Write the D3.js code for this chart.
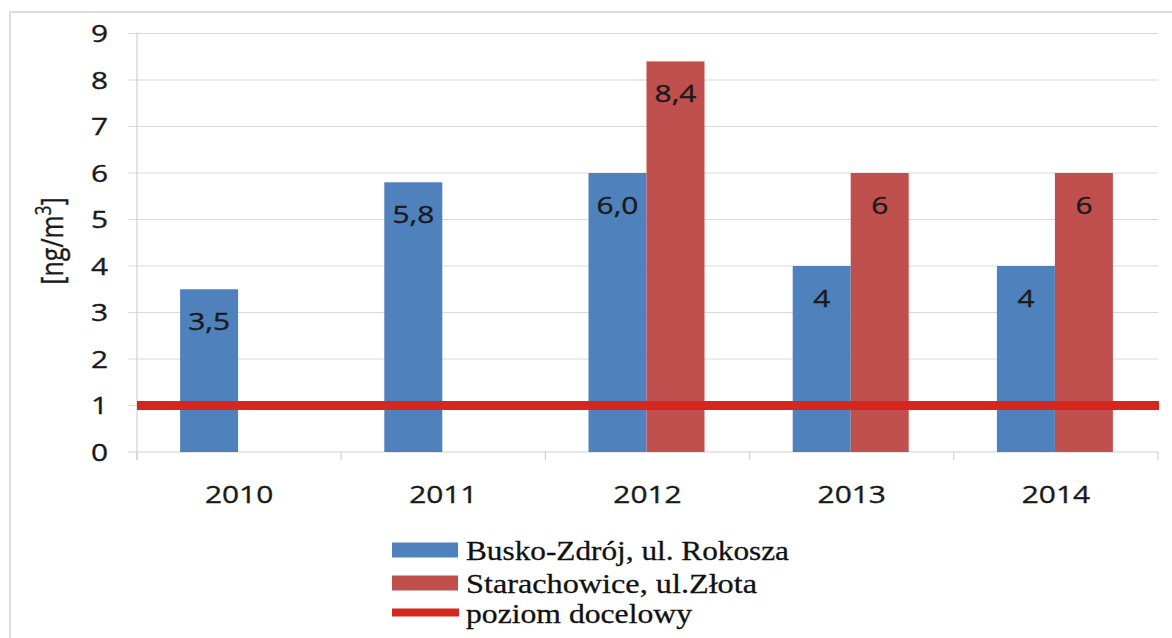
<!DOCTYPE html>
<html><head><meta charset="utf-8">
<script src="https://cdn.jsdelivr.net/npm/d3@7"></script>
<style>body{margin:0;background:#fff}svg{display:block}</style>
</head><body>
<svg id="c" width="1172" height="638"></svg>
<script>
const categories = ["2010","2011","2012","2013","2014"];
const seriesNames = ["Busko-Zdrój, ul. Rokosza","Starachowice, ul.Złota"];
const busko = [3.5, 5.8, 6.0, 4, 4];
const starachowice = [null, null, 8.4, 6, 6];
const buskoLabels = ["3,5","5,8","6,0","4","4"];
const starLabels = [null, null, "8,4","6","6"];
const targetName = "poziom docelowy";
const targetValue = 1;
const yTicks = [0,1,2,3,4,5,6,7,8,9];
const legendLengths = [323, 291, 226];

const colors = ["#4f81bd","#c0504d"];
const lineColor = "#d7261e";
const SX = 1.27;

const svg = d3.select("#c");
svg.append("rect").attr("x",10).attr("y",12).attr("width",1200).attr("height",700)
  .attr("fill","none").attr("stroke","#dcdcdc").attr("stroke-width",2);

const x0 = 137, x1 = 1158, yTop = 33.5, yBot = 452;
const x = d3.scaleBand().domain(categories).range([x0,x1]).padding(0);
const y = d3.scaleLinear().domain([0,9]).range([yBot,yTop]);
const xi = d3.scaleBand().domain([0,1]).range([0, 116]);

const g = svg.append("g");
g.selectAll(".grid").data(yTicks.filter(d=>d>0)).join("line")
  .attr("x1",128).attr("x2",x1).attr("y1",d=>y(d)).attr("y2",d=>y(d))
  .attr("stroke","#d9d9d9").attr("stroke-width",1.2);
g.append("line").attr("x1",x0).attr("x2",x0).attr("y1",yTop).attr("y2",yBot+8)
  .attr("stroke","#d0d0d0").attr("stroke-width",1.2);
g.append("line").attr("x1",128).attr("x2",x1).attr("y1",yBot).attr("y2",yBot)
  .attr("stroke","#d0d0d0").attr("stroke-width",1.2);
const bounds = categories.map(c=>x(c)).concat([x1]);
g.selectAll(".xt").data(bounds).join("line")
  .attr("x1",d=>d).attr("x2",d=>d).attr("y1",yBot).attr("y2",yBot+8)
  .attr("stroke","#d0d0d0").attr("stroke-width",1.2);

function stext(sel, fx, fy, size, anchor){
  return sel.attr("transform",(d,i)=>`translate(${fx(d,i)},${fy(d,i)}) scale(${SX},1)`)
    .attr("font-family","'Open Sans', sans-serif").attr("font-size",size)
    .attr("fill","#1a1a1a").attr("stroke","#1a1a1a").attr("stroke-width",0.35)
    .attr("text-anchor",anchor);
}
stext(g.selectAll(".yl").data(yTicks).join("text").text(d=>d),
  d=>108, d=>y(d)+8.5, 23.5, "end");
stext(g.selectAll(".xl").data(categories).join("text").text(d=>d),
  d=>x(d)+x.bandwidth()/2, d=>503, 23.5, "middle");

const series = [busko, starachowice];
const labels = [buskoLabels, starLabels];
series.forEach((vals, s)=>{
  const data = categories.map((c,i)=>({c, v:vals[i], l:labels[s][i]})).filter(d=>d.v!=null);
  const off = (x.bandwidth()/2) - 59;
  g.selectAll(".b"+s).data(data).join("rect")
    .attr("x",d=>x(d.c)+off+xi(s)).attr("width",xi.bandwidth())
    .attr("y",d=>y(d.v)).attr("height",d=>yBot-y(d.v)).attr("fill",colors[s]);
  stext(g.selectAll(".v"+s).data(data).join("text").text(d=>d.l),
    d=>x(d.c)+off+xi(s)+xi.bandwidth()/2, d=>y(d.v)+41, 23.5, "middle");
});

g.append("line").attr("x1",x0).attr("x2",x1+1)
  .attr("y1",y(targetValue)).attr("y2",y(targetValue))
  .attr("stroke",lineColor).attr("stroke-width",9);

g.append("text").attr("transform","translate(63,241) scale(1.25,1) rotate(-90)")
  .attr("font-family","'Open Sans', sans-serif").attr("font-size",25).attr("fill","#1a1a1a")
  .attr("stroke","#1a1a1a").attr("stroke-width",0.3)
  .attr("text-anchor","middle")
  .html('[ng/m<tspan dy="-10" font-size="17">3</tspan><tspan dy="10">]</tspan>');

const legItems = [
  {name:seriesNames[0], type:"rect", color:colors[0]},
  {name:seriesNames[1], type:"rect", color:colors[1]},
  {name:targetName, type:"line", color:lineColor}
];
const legRows = [550, 583, 612.5];
legItems.forEach((it,i)=>{
  if(it.type==="rect"){
    g.append("rect").attr("x",392).attr("y",legRows[i]-7.5).attr("width",66).attr("height",15).attr("fill",it.color);
  } else {
    g.append("rect").attr("x",392).attr("y",legRows[i]-4).attr("width",67).attr("height",8).attr("fill",it.color);
  }
  g.append("text").attr("x",466).attr("y",legRows[i]+10)
    .attr("font-family","'Liberation Serif', 'Times New Roman', serif").attr("font-size",28)
    .attr("fill","#111").attr("stroke","#111").attr("stroke-width",0.3)
    .attr("textLength",legendLengths[i]).attr("lengthAdjust","spacingAndGlyphs")
    .text(it.name);
});
</script>
</body></html>
